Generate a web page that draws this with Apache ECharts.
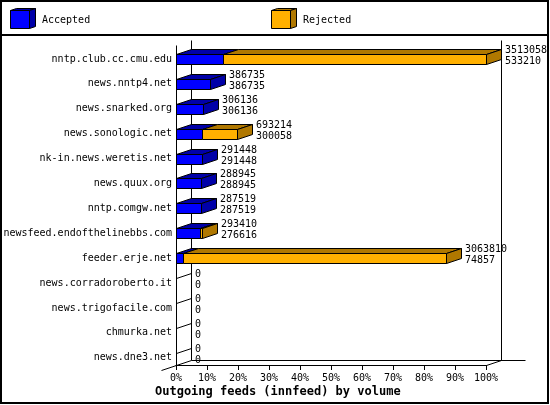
<!DOCTYPE html>
<html><head><meta charset="utf-8">
<script src="https://cdn.jsdelivr.net/npm/echarts@6/dist/echarts.min.js"></script>
<style>html,body{margin:0;padding:0;background:#fff}#c{width:550px;height:405px}</style>
</head><body><div id="c"></div>
<script>
const names = ['nntp.club.cc.cmu.edu','news.nntp4.net','news.snarked.org','news.sonologic.net','nk-in.news.weretis.net','news.quux.org','nntp.comgw.net','newsfeed.endofthelinebbs.com','feeder.erje.net','news.corradoroberto.it','news.trigofacile.com','chmurka.net','news.dne3.net'];
const offered = [3513058,386735,306136,693214,291448,288945,287519,293410,3063810,0,0,0,0];
const accepted = [533210,386735,306136,300058,291448,288945,287519,276616,74857,0,0,0,0];
const seriesNames = ['Accepted','Rejected'];
const pctTicks = {min:0, max:100, step:10};
const title = 'Outgoing feeds (innfeed) by volume';

const MONO = '"DejaVu Sans Mono", "Liberation Mono", monospace';
const FRONT = ['#0000ff', '#ffb000'];
const DARK = ['#0000a8', '#b07800'];
const DX = 15, DY = 5;
const maxOffered = Math.max.apply(null, offered);
const p = v => Math.round(v) + 0.5;

const chart = echarts.init(document.getElementById('c'), null, {renderer:'canvas'});

function poly(pts, fill){
  return {type:'polygon', shape:{points:pts.map(q=>[p(q[0]),p(q[1])])}, style:{fill:fill, stroke:'#000', lineWidth:1}};
}
function line(x1,y1,x2,y2){
  return {type:'line', shape:{x1:p(x1),y1:p(y1),x2:p(x2),y2:p(y2)}, style:{stroke:'#000', lineWidth:1}};
}

function renderFrame(params, api){
  const o = api.coord([0,0]);
  const r = api.coord([100,0]);
  const t = api.coord([0,1]);
  return {type:'group', children:[
    line(o[0]+DX, t[1]-DY, o[0]+DX, o[1]-DY),
    line(r[0]+DX, t[1]-DY, r[0]+DX, o[1]-DY),
    line(o[0]+DX, o[1]-DY, r[0]+DX+24, o[1]-DY),
    line(r[0], o[1], r[0]+DX, o[1]-DY),
    line(o[0]-DX, o[1]+DY, o[0]+DX, o[1]-DY),
    line(o[0], t[1], o[0], o[1])
  ]};
}

function renderBar(params, api){
  const i = api.value(0);
  const acc = api.value(1), tot = api.value(2);
  const c0 = api.coord([0, i]);
  const ca = api.coord([acc / maxOffered * 100, i]);
  const ct = api.coord([tot / maxOffered * 100, i]);
  const yc = Math.round(c0[1]);
  const yt = yc - 5, yb = yc + 5;
  const x0 = Math.round(c0[0]), xa = Math.round(ca[0]), xt = Math.round(ct[0]);
  const ch = [];
  if (xt <= x0) {
    ch.push(line(x0, yt, x0+DX, yt-DY));
  } else {
    ch.push({type:'rect', shape:{x:p(x0), y:p(yt), width:xa-x0, height:yb-yt}, style:{fill:FRONT[0], stroke:'#000', lineWidth:1}});
    ch.push(poly([[x0,yt],[xa,yt],[xa+DX,yt-DY],[x0+DX,yt-DY]], DARK[0]));
    let last = 0;
    if (xt > xa) {
      ch.push({type:'rect', shape:{x:p(xa), y:p(yt), width:xt-xa, height:yb-yt}, style:{fill:FRONT[1], stroke:'#000', lineWidth:1}});
      ch.push(poly([[xa,yt],[xt,yt],[xt+DX,yt-DY],[xa+DX,yt-DY]], DARK[1]));
      last = 1;
    }
    ch.push(poly([[xt,yt],[xt+DX,yt-DY],[xt+DX,yb-DY],[xt,yb]], DARK[last]));
  }
  ch.push({type:'text', style:{text: offered[i] + '\n' + accepted[i], x: xt+DX+4, y: yc-3.5,
    fill:'#000', fontSize:10, fontFamily:MONO, align:'left', verticalAlign:'middle', lineHeight:11}});
  return {type:'group', children:ch};
}

function legendCube(x, color, dark, label){
  const y = 10, w = 19, h = 18, dx = 6, dy = 2;
  return [
    {type:'polygon', shape:{points:[[x+.5,y+.5],[x+w+.5,y+.5],[x+w+dx+.5,y-dy+.5],[x+dx+.5,y-dy+.5]]}, style:{fill:dark, stroke:'#000', lineWidth:1}},
    {type:'polygon', shape:{points:[[x+w+.5,y+.5],[x+w+dx+.5,y-dy+.5],[x+w+dx+.5,y+h-dy+.5],[x+w+.5,y+h+.5]]}, style:{fill:dark, stroke:'#000', lineWidth:1}},
    {type:'rect', shape:{x:x+.5, y:y+.5, width:w, height:h}, style:{fill:color, stroke:'#000', lineWidth:1}},
    {type:'text', style:{text:label, x:x+32, y:y+10.5, fill:'#000', fontSize:10, fontFamily:MONO, verticalAlign:'middle'}}
  ];
}

const option = {
  animation:false,
  backgroundColor:'#fff',
  title:{text:title, left:155, top:386, padding:0,
    textStyle:{fontFamily:MONO, fontWeight:'bold', fontSize:12, color:'#000'}},
  grid:[
    {left:176, width:310, top:45, height:320, outerBoundsMode:'none', containLabel:false},
    {left:176, width:310, top:46.5, height:323.7, outerBoundsMode:'none', containLabel:false}
  ],
  xAxis:[
    {gridIndex:0, type:'value', min:pctTicks.min, max:pctTicks.max, interval:pctTicks.step,
      axisLine:{show:true, lineStyle:{color:'#000', width:1}},
      axisTick:{show:true, length:5, lineStyle:{color:'#000', width:1}},
      splitLine:{show:false},
      axisLabel:{formatter:'{value}%', color:'#000', fontFamily:MONO, fontSize:10, margin:8}},
    {gridIndex:1, type:'value', min:pctTicks.min, max:pctTicks.max, show:false}
  ],
  yAxis:[
    {gridIndex:0, type:'value', min:0, max:1, show:false},
    {gridIndex:1, type:'category', data:names, inverse:true,
      axisLine:{show:false}, axisTick:{show:false}, splitLine:{show:false},
      axisLabel:{interval:0, color:'#000', fontFamily:MONO, fontSize:10, margin:4}}
  ],
  graphic:[
    {type:'rect', shape:{x:1, y:1, width:547, height:402}, style:{fill:'none', stroke:'#000', lineWidth:2}, z:100},
    {type:'line', shape:{x1:0, y1:35, x2:548, y2:35}, style:{stroke:'#000', lineWidth:2}, z:100}
  ].concat(legendCube(10, FRONT[0], DARK[0], seriesNames[0]))
   .concat(legendCube(271, FRONT[1], DARK[1], seriesNames[1])),
  series:[
    {type:'custom', name:'frame', xAxisIndex:0, yAxisIndex:0, data:[[0,0]], renderItem:renderFrame, z:2, silent:true},
    {type:'custom', name:'bars', xAxisIndex:1, yAxisIndex:1,
      data:names.map((n,i)=>[i, accepted[i], offered[i]]), renderItem:renderBar, z:3, silent:true}
  ]
};
chart.setOption(option);
</script>
</body></html>
